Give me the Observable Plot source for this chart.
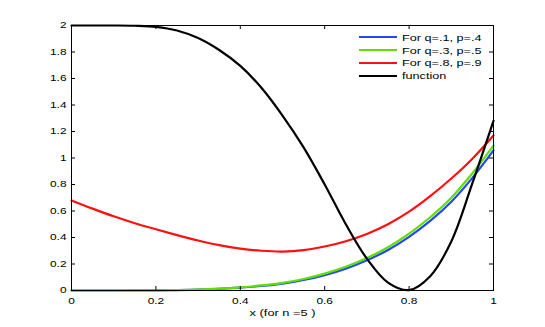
<!DOCTYPE html>
<html>
<head>
<meta charset="utf-8">
<script src="https://cdn.jsdelivr.net/npm/d3@7"></script>
<script src="https://cdn.jsdelivr.net/npm/@observablehq/plot@0.6"></script>
<style>
  body { margin: 0; background: #fff; }
  #wrap { position: relative; width: 545px; height: 327px; font-family: "Liberation Sans", Arial, sans-serif; }
  #legend { position: absolute; left: 359px; top: 31px; }
  .row { display: flex; align-items: center; height: 12.8px; }
  .swatch { display: inline-block; width: 38px; height: 2.2px; margin-right: 5px; }
  .lab { display: inline-block; font-size: 9.4px; transform: scaleX(1.35); transform-origin: left center; white-space: nowrap; color: #000; }
</style>
</head>
<body>
<div id="wrap"></div>
<script>
const xs = [0, 0.05, 0.1, 0.15, 0.2, 0.25, 0.3, 0.35, 0.4, 0.45, 0.5, 0.55, 0.6, 0.65, 0.7, 0.75, 0.8, 0.85, 0.9, 0.95, 1.0];
const blueVals  = [0, 0, 0.0001, 0.0003, 0.001, 0.003, 0.006, 0.012, 0.021, 0.034, 0.052, 0.079, 0.116, 0.165, 0.228, 0.306, 0.405, 0.525, 0.67, 0.85, 1.057];
const greenVals = [0, 0, 0.0001, 0.0004, 0.0012, 0.0035, 0.007, 0.014, 0.024, 0.038, 0.058, 0.087, 0.127, 0.179, 0.245, 0.327, 0.43, 0.553, 0.70, 0.885, 1.094];
const redVals   = [0.68, 0.618, 0.56, 0.508, 0.462, 0.418, 0.377, 0.342, 0.316, 0.30, 0.294, 0.305, 0.332, 0.372, 0.427, 0.50, 0.595, 0.712, 0.845, 0.995, 1.17];
const blackVals = [2.0, 2.0, 2.0, 1.998, 1.99, 1.962, 1.905, 1.815, 1.695, 1.53, 1.32, 1.08, 0.80, 0.50, 0.24, 0.06, 0.003, 0.108, 0.37, 0.81, 1.28];

const seriesNames = ["For q=.1, p=.4", "For q=.3, p=.5", "For q=.8, p=.9", "function"];
const seriesColors = ["#2346ff", "#5fe000", "#ff1010", "#000000"];
const seriesValues = [blueVals, greenVals, redVals, blackVals];

const xTicks = [0, 0.2, 0.4, 0.6, 0.8, 1];
const yTicks = [0, 0.2, 0.4, 0.6, 0.8, 1, 1.2, 1.4, 1.6, 1.8, 2];
const xLabel = "x (for n =5 )";

const rows = [];
seriesNames.forEach((name, i) => {
  xs.forEach((x, j) => rows.push({series: name, x, y: seriesValues[i][j]}));
});

const W = 545, H = 327, mL = 71, mR = 52, mT = 25, mB = 37;
const pw = W - mL - mR, ph = H - mT - mB, tl = 4;

const lineMarks = seriesNames.map((name, i) =>
  Plot.line(rows.filter(d => d.series === name), {x: "x", y: "y", stroke: seriesColors[i], strokeWidth: 2.2, curve: "catmull-rom"})
);

const fmt = d => String(d);

const plot = Plot.plot({
  width: W, height: H,
  marginLeft: mL, marginRight: mR, marginTop: mT, marginBottom: mB,
  x: {domain: [0, 1]},
  y: {domain: [0, 2]},
  style: {fontFamily: "'Liberation Sans', Arial, sans-serif", fontSize: "9px", color: "#000", background: "#fff"},
  marks: [
    ...lineMarks,
    Plot.tickY(yTicks, {y: d => d, stroke: "#000", insetRight: pw - tl}),
    Plot.tickY(yTicks, {y: d => d, stroke: "#000", insetLeft: pw - tl}),
    Plot.tickX(xTicks, {x: d => d, stroke: "#000", insetTop: ph - tl}),
    Plot.tickX(xTicks, {x: d => d, stroke: "#000", insetBottom: ph - tl}),
    Plot.frame({stroke: "#000", strokeWidth: 1}),
    Plot.axisY(yTicks, {anchor: "left", tickSize: 0, tickPadding: 5, label: null, fontSize: 8.8, tickFormat: fmt}),
    Plot.axisX(xTicks, {anchor: "bottom", tickSize: 0, tickPadding: 7, label: null, fontSize: 8.8, tickFormat: fmt}),
    Plot.text([xLabel], {frameAnchor: "bottom", dy: 22, text: d => d, fontSize: 9.5, lineAnchor: "middle"})
  ]
});

for (const t of plot.querySelectorAll("text")) {
  const tr = t.getAttribute("transform");
  if (tr) t.setAttribute("transform", tr + " scale(1.35,1)");
  else {
    const x = +t.getAttribute("x") || 0, y = +t.getAttribute("y") || 0;
    t.setAttribute("transform", `translate(${x},${y}) scale(1.35,1) translate(${-x},${-y})`);
  }
}

const wrap = document.getElementById("wrap");
wrap.appendChild(plot);

const legend = document.createElement("div");
legend.id = "legend";
seriesNames.forEach((name, i) => {
  const row = document.createElement("div");
  row.className = "row";
  const sw = document.createElement("span");
  sw.className = "swatch";
  sw.style.background = seriesColors[i];
  const lab = document.createElement("span");
  lab.className = "lab";
  lab.textContent = name;
  row.appendChild(sw); row.appendChild(lab);
  legend.appendChild(row);
});
wrap.appendChild(legend);
</script>
</body>
</html>
